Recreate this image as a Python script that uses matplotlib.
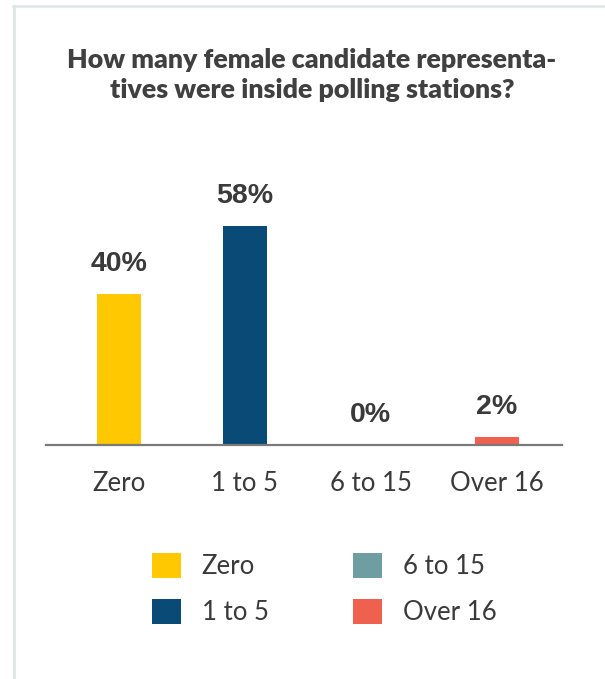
import matplotlib
matplotlib.use("Agg")
import matplotlib.pyplot as plt
from matplotlib.patches import Patch
from matplotlib.lines import Line2D

categories = ["Zero", "1 to 5", "6 to 15", "Over 16"]
values = [40, 58, 0, 2]
value_labels = ["40%", "58%", "0%", "2%"]
colors = ["#FFC800", "#0A4A76", "#6E9EA2", "#F0604F"]
title = "How many female candidate representa-\ntives were inside polling stations?"

W, H = 605, 679
fig = plt.figure(figsize=(W / 100, H / 100), dpi=100)
fig.patch.set_facecolor("white")

# frame lines (left and top)
fig.add_artist(Line2D([13.5 / W, 13.5 / W], [0, 1 - 5.5 / H], color="#DFE6E6", lw=2.2,
                      transform=fig.transFigure))
fig.add_artist(Line2D([12.5 / W, 1], [1 - 5.5 / H, 1 - 5.5 / H], color="#DFE6E6", lw=1.8,
                      transform=fig.transFigure))

ax_left, ax_right = 46 / W, 562 / W
ax_bottom = (H - 445) / H
ymax = 70
px_per_unit = 3.77
ax_h = ymax * px_per_unit / H
ax = fig.add_axes([ax_left, ax_bottom, ax_right - ax_left, ax_h])

x = list(range(len(categories)))
bars = ax.bar(x, values, width=0.35, color=colors, zorder=2)
ax.set_xlim(-0.58, 3.52)
ax.set_ylim(0, ymax)

for xi, v, lab in zip(x, values, value_labels):
    ax.annotate(lab, (xi, v), xytext=(0, 12.5), textcoords="offset points",
                ha="center", va="bottom", fontsize=20.5, fontweight="bold",
                color="#3A3A3A", family="Liberation Sans")

for s in ["top", "right", "left"]:
    ax.spines[s].set_visible(False)
ax.spines["bottom"].set_color("#7A7A7A")
ax.spines["bottom"].set_linewidth(1.6)
ax.set_yticks([])
ax.set_xticks(x)
ax.set_xticklabels(categories, fontsize=18.5, color="#3A3A3A", family="Lato")
ax.tick_params(axis="x", length=0, pad=19)

fig.text(312 / W, 1 - 75 / H, title, ha="center", va="center", fontsize=19.3,
         fontweight="heavy", color="#404040", family="Lato", linespacing=1.3)

handles = [Patch(facecolor=c, edgecolor="none") for c in colors]
leg = fig.legend(handles, categories, ncol=2, loc="upper left",
                 bbox_to_anchor=(152 / W, 1 - 553 / H), frameon=False,
                 prop={"family": "Lato", "size": 18.5},
                 handlelength=1.13, handleheight=1.13, handletextpad=0.8,
                 labelspacing=0.75, columnspacing=3.3, borderpad=0, borderaxespad=0)
for t in leg.get_texts():
    t.set_color("#3A3A3A")

fig.savefig("out.png", dpi=100, facecolor="white")
